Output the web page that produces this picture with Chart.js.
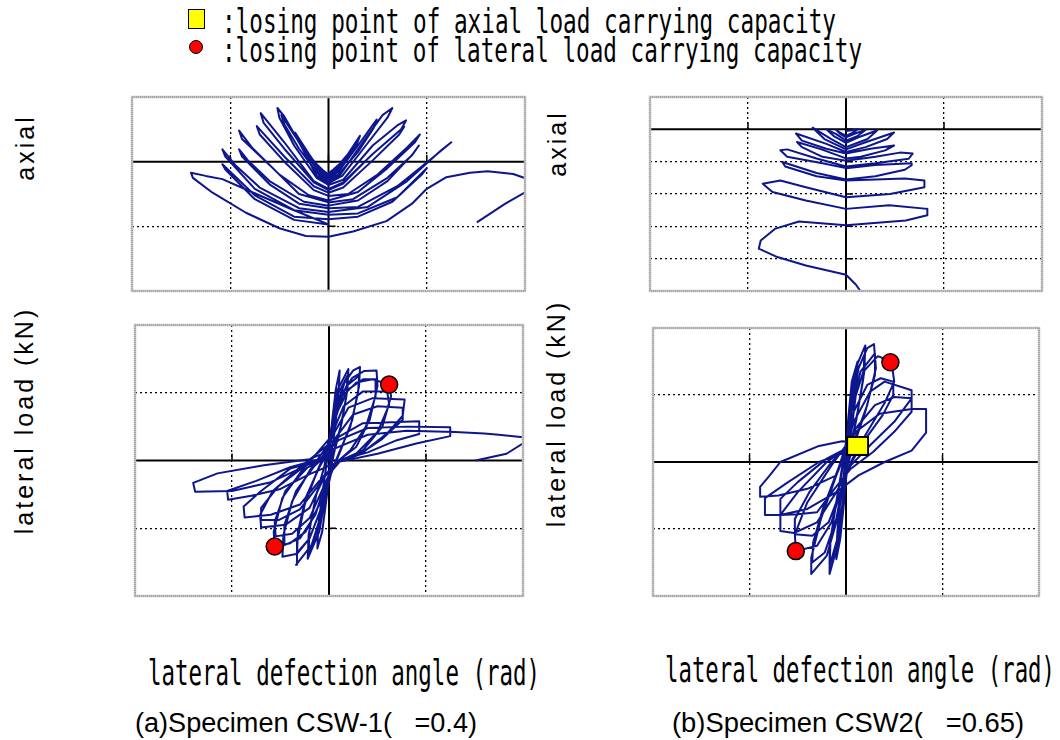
<!DOCTYPE html>
<html><head><meta charset="utf-8">
<script src="https://cdn.jsdelivr.net/npm/chart.js@4.4.0/dist/chart.umd.min.js"></script>
<style>
html,body{margin:0;padding:0;background:#fff;}
body{width:1060px;height:740px;position:relative;overflow:hidden;}
canvas.panel{position:absolute;}
.t{position:absolute;white-space:nowrap;color:#000;line-height:1;}
.mono{font-family:"DejaVu Sans Mono",monospace;}
.sans{font-family:"Liberation Sans",Arial,sans-serif;}
.rot{font-family:"Liberation Sans",Arial,sans-serif;font-size:25px;letter-spacing:3px;}
#sq{position:absolute;left:188px;top:9px;width:15px;height:18px;background:#ffff00;border:1.5px solid #000;}
#ci{position:absolute;left:189px;top:40px;width:12px;height:12px;background:#ff0000;border:1.5px solid #000;border-radius:50%;}
</style></head><body>
<div id="sq"></div><div id="ci"></div>
<div id="lg1" class="t mono" style="font-size:34px">:losing point of axial load carrying capacity</div>
<div id="lg2" class="t mono" style="font-size:34px">:losing point of lateral load carrying capacity</div>
<div id="yl1" class="t rot">axial</div>
<div id="yl2" class="t rot">lateral load (kN)</div>
<div id="yl3" class="t rot">axial</div>
<div id="yl4" class="t rot">lateral load (kN)</div>
<div id="xl1" class="t mono" style="font-size:36px">lateral defection angle (rad)</div>
<div id="xl2" class="t mono" style="font-size:36px">lateral defection angle (rad)</div>
<div id="cap1" class="t sans" style="font-size:27px">(a)Specimen CSW-1(&nbsp;&nbsp; =0.4)</div>
<div id="cap2" class="t sans" style="font-size:27px">(b)Specimen CSW2(&nbsp;&nbsp; =0.65)</div>
<canvas id="c1" class="panel"></canvas>
<canvas id="c2" class="panel"></canvas>
<canvas id="c3" class="panel"></canvas>
<canvas id="c4" class="panel"></canvas>
<script>
// ---- data (x: lateral deflection angle in grid units, y: load / axial in grid units) ----
const csw1Axial = [
 [0,-0.18],
 [0.05,-0.12],[0.11,-0.04],[0.07,-0.12],[0,-0.2],[-0.06,-0.13],[-0.12,-0.04],[-0.08,-0.13],[0,-0.21],
 [0.08,-0.1],[0.15,0.03],[0.20,0.12],[0.16,0.02],[0.08,-0.14],[0,-0.22],[-0.08,-0.12],[-0.16,0.03],[-0.22,0.12],[-0.18,0.02],[-0.09,-0.15],[0,-0.23],
 [0.08,-0.15],[0.2,0.12],[0.32,0.40],[0.29,0.28],[0.18,0.02],[0.07,-0.18],[0,-0.25],[-0.08,-0.15],[-0.2,0.12],[-0.34,0.45],[-0.31,0.32],[-0.2,0.05],[-0.08,-0.18],[0,-0.26],
 [0.1,-0.16],[0.3,0.25],[0.49,0.65],[0.46,0.52],[0.3,0.15],[0.1,-0.2],[0,-0.28],[-0.1,-0.16],[-0.3,0.3],[-0.48,0.72],[-0.45,0.58],[-0.3,0.2],[-0.1,-0.2],[0,-0.3],
 [0.12,-0.2],[0.35,0.3],[0.55,0.72],[0.65,0.83],[0.6,0.68],[0.38,0.25],[0.14,-0.22],[0,-0.33],[-0.12,-0.22],[-0.3,0.3],[-0.45,0.7],[-0.52,0.83],[-0.5,0.68],[-0.35,0.25],[-0.12,-0.25],[0,-0.36],
 [0.15,-0.28],[0.45,0.25],[0.7,0.56],[0.79,0.64],[0.74,0.5],[0.45,0.12],[0.15,-0.32],[0,-0.42],[-0.15,-0.3],[-0.45,0.3],[-0.62,0.62],[-0.69,0.75],[-0.66,0.6],[-0.45,0.2],[-0.15,-0.32],[0,-0.44],
 [0.15,-0.34],[0.45,0.12],[0.77,0.54],[0.72,0.42],[0.45,0.02],[0.15,-0.4],[0,-0.48],[-0.15,-0.38],[-0.45,0.08],[-0.73,0.55],[-0.7,0.42],[-0.45,0.0],[-0.15,-0.44],[0,-0.53],
 [0.2,-0.5],[0.5,-0.2],[0.8,0.22],[0.93,0.42],[0.88,0.3],[0.6,-0.1],[0.3,-0.47],[0,-0.6],[-0.2,-0.52],[-0.5,-0.2],[-0.78,0.22],[-0.91,0.48],[-0.88,0.35],[-0.6,-0.05],[-0.3,-0.5],[0,-0.63],
 [0.25,-0.58],[0.6,-0.25],[0.85,0.1],[0.92,0.25],[0.86,0.12],[0.6,-0.3],[0.3,-0.6],[0,-0.68],[-0.25,-0.62],[-0.6,-0.3],[-0.82,0.02],[-0.91,0.19],[-0.88,0.08],[-0.6,-0.35],[-0.3,-0.65],[0,-0.72],
 [0.3,-0.7],[0.7,-0.38],[1.05,0.05],[1.25,0.30],[1.15,0.18],[0.8,-0.3],[0.4,-0.7],[0,-0.78],[-0.3,-0.72],[-0.7,-0.4],[-0.95,-0.05],[-1.08,0.19],[-1.05,0.08],[-0.75,-0.42],[-0.35,-0.75],[0,-0.82],
 [0.3,-0.8],[0.7,-0.55],[1.0,-0.1],[0.95,-0.2],[0.65,-0.62],[0.3,-0.85],[0,-0.89],[-0.35,-0.85],[-0.75,-0.52],[-1.08,-0.04],[-1.05,-0.12],[-0.75,-0.58],[-0.35,-0.9],[0,-0.97],
 [-0.4,-0.72],[-0.84,-0.43],[-1.08,-0.27],[-1.25,-0.22],[-1.40,-0.17],[-1.38,-0.25],[-1.18,-0.48],[-0.84,-0.79],[-0.5,-1.03],[-0.23,-1.15],[0,-1.16],
 [0.25,-1.08],[0.59,-0.92],[0.85,-0.65],[1.0,-0.42],[1.2,-0.24],[1.44,-0.17],[1.62,-0.15],[1.88,-0.19],[2.03,-0.27],[2.03,-0.45],[1.8,-0.65],[1.51,-0.94]
];
const csw1Lateral = [
 [0,0],[0.03,0.55],[0.07,1.05],[0.11,1.33],[0.10,1.0],[0.06,0.45],[0.02,0.05],[-0.02,-0.5],[-0.07,-1.05],[-0.12,-1.30],[-0.11,-0.95],[-0.06,-0.4],[-0.02,0.0],
 [0.02,0.45],[0.09,1.05],[0.2,1.35],[0.19,1.05],[0.13,0.55],[0.05,0.1],[-0.02,-0.4],[-0.1,-1.05],[-0.22,-1.45],[-0.21,-1.1],[-0.14,-0.55],[-0.05,-0.1],
 [0.03,0.5],[0.1,1.0],[0.19,1.25],[0.18,0.95],[0.12,0.5],[0.04,0.08],[-0.03,-0.45],[-0.11,-1.0],[-0.21,-1.35],[-0.2,-1.0],[-0.13,-0.5],[-0.04,-0.05],
 [0.0,0.15],[0.06,0.7],[0.16,1.15],[0.25,1.33],[0.32,1.38],[0.31,1.1],[0.24,0.6],[0.12,0.15],[0.02,-0.2],[-0.06,-0.7],[-0.18,-1.25],[-0.34,-1.54],[-0.33,-1.2],[-0.25,-0.65],[-0.12,-0.15],
 [0.02,0.3],[0.08,0.75],[0.18,1.1],[0.31,1.25],[0.3,1.0],[0.22,0.5],[0.1,0.1],[0.0,-0.25],[-0.08,-0.7],[-0.2,-1.15],[-0.33,-1.38],[-0.32,-1.05],[-0.24,-0.55],[-0.1,-0.1],
 [-0.02,0.1],[0.04,0.55],[0.12,0.95],[0.24,1.22],[0.36,1.32],[0.49,1.33],[0.5,1.1],[0.42,0.6],[0.28,0.2],[0.1,0.0],[0.0,-0.2],[-0.08,-0.7],[-0.2,-1.15],[-0.34,-1.38],[-0.48,-1.42],[-0.47,-1.1],[-0.38,-0.6],[-0.2,-0.15],
 [0.0,0.25],[0.08,0.7],[0.2,1.05],[0.35,1.2],[0.48,1.2],[0.48,0.95],[0.38,0.5],[0.22,0.15],[0.06,-0.05],[-0.04,-0.35],[-0.14,-0.8],[-0.3,-1.15],[-0.46,-1.25],[-0.46,-0.95],[-0.34,-0.45],[-0.15,-0.08],
 [-0.05,0.05],[0.04,0.5],[0.14,0.95],[0.28,1.15],[0.45,1.2],[0.62,1.12],[0.64,0.95],[0.55,0.5],[0.35,0.15],[0.12,0.0],[0.0,-0.2],[-0.1,-0.65],[-0.24,-1.05],[-0.4,-1.22],[-0.56,-1.27],[-0.57,-1.05],[-0.48,-0.55],[-0.28,-0.15],
 [0.02,0.35],[0.15,0.8],[0.35,1.02],[0.6,1.02],[0.62,0.82],[0.5,0.42],[0.28,0.1],[0.05,-0.05],[-0.06,-0.4],[-0.2,-0.85],[-0.38,-1.08],[-0.55,-1.12],[-0.56,-0.9],[-0.45,-0.45],[-0.22,-0.1],
 [-0.08,0.0],[0.05,0.4],[0.2,0.78],[0.45,0.92],[0.78,0.90],[0.76,0.66],[0.6,0.4],[0.35,0.12],[0.1,0.0],[-0.05,-0.25],[-0.2,-0.7],[-0.45,-0.95],[-0.70,-0.99],[-0.71,-0.8],[-0.58,-0.45],[-0.3,-0.1],
 [0.05,0.3],[0.25,0.68],[0.5,0.8],[0.76,0.78],[0.76,0.6],[0.55,0.32],[0.3,0.08],[0.05,-0.05],[-0.1,-0.35],[-0.3,-0.72],[-0.52,-0.88],[-0.70,-0.88],[-0.7,-0.7],[-0.52,-0.38],[-0.25,-0.08],
 [-0.1,0.0],[0.1,0.35],[0.35,0.55],[0.93,0.58],[0.93,0.39],[0.7,0.3],[0.4,0.12],[0.1,0.0],[-0.1,-0.3],[-0.3,-0.65],[-0.6,-0.8],[-0.87,-0.84],[-0.88,-0.68],[-0.7,-0.45],[-0.4,-0.12],
 [-0.1,0.0],[0.1,0.3],[0.4,0.48],[0.8,0.5],[1.25,0.49],[1.25,0.36],[0.9,0.25],[0.5,0.1],[0.1,-0.02],[-0.2,-0.2],[-0.5,-0.42],[-0.8,-0.52],[-1.04,-0.58],[-1.05,-0.45],[-0.75,-0.3],[-0.4,-0.1],
 [-0.1,0.02],[-0.3,-0.12],[-0.6,-0.32],[-1.0,-0.45],[-1.38,-0.46],[-1.40,-0.33],[-1.15,-0.19],[-0.67,-0.07],[-0.2,0.02],
 [0.1,0.2],[0.4,0.38],[0.8,0.44],[1.3,0.42],[1.6,0.40],[1.75,0.38],[2.03,0.34],[2.03,0.28],[1.83,0.1],[1.51,0.0]
];
const csw1LateralLoss = [[0.62,1.12],[-0.56,-1.27]];

const csw2Axial = [
 [0,-0.05],
 [0.06,-0.03],[0.12,0.0],[0.07,-0.1],[0,-0.2],[-0.06,-0.1],[-0.1,-0.02],[-0.06,-0.14],[0,-0.25],
 [0.1,-0.12],[0.2,-0.02],[0.12,-0.2],[0,-0.35],[-0.1,-0.15],[-0.2,0.0],[-0.12,-0.22],[0,-0.42],
 [0.15,-0.22],[0.32,-0.03],[0.22,-0.3],[0,-0.55],[-0.15,-0.3],[-0.34,0.05],[-0.22,-0.3],[0,-0.62],
 [0.2,-0.4],[0.49,-0.10],[0.42,-0.3],[0.2,-0.55],[0,-0.70],[-0.2,-0.45],[-0.51,-0.13],[-0.45,-0.35],[-0.2,-0.6],[0,-0.75],
 [0.25,-0.6],[0.49,-0.5],[0.4,-0.65],[0.15,-0.85],[0,-0.9],[-0.25,-0.62],[-0.50,-0.39],[-0.45,-0.55],[-0.24,-0.85],[0,-0.97],
 [0.3,-0.85],[0.55,-0.72],[0.68,-0.75],[0.64,-0.91],[0.3,-1.05],[0,-1.15],[-0.3,-0.9],[-0.6,-0.62],[-0.67,-0.65],[-0.6,-0.85],[-0.24,-1.05],[0,-1.2],
 [0.3,-1.1],[0.67,-1.05],[0.67,-1.11],[0.6,-1.25],[0.3,-1.45],[0,-1.55],[-0.3,-1.35],[-0.65,-1.01],[-0.62,-1.15],[-0.3,-1.45],[0,-1.58],
 [0.3,-1.55],[0.6,-1.52],[0.80,-1.58],[0.80,-1.79],[0.45,-2.0],[0,-2.1],[-0.4,-1.8],[-0.67,-1.58],[-0.85,-1.68],[-0.75,-1.94],[-0.41,-2.2],[0,-2.46],
 [0.44,-2.35],[0.83,-2.46],[0.83,-2.66],[0.61,-2.82],[0,-2.97],[-0.48,-2.85],[-0.72,-3.07],[-0.87,-3.44],[-0.89,-3.69],[-0.7,-3.95],[-0.41,-4.21],[0,-4.5],[0.1,-4.8],[0.17,-5.1]
];
const csw2Lateral = [
 [0,0],[0.02,0.6],[0.06,1.2],[0.12,1.5],[0.11,1.1],[0.06,0.5],[0.01,0.0],[-0.02,-0.6],[-0.06,-1.15],[-0.1,-1.45],[-0.09,-1.05],[-0.05,-0.45],[0,0.05],
 [0.03,0.7],[0.1,1.4],[0.2,1.74],[0.19,1.35],[0.12,0.75],[0.03,0.1],[-0.02,-0.5],[-0.08,-1.2],[-0.17,-1.67],[-0.17,-1.25],[-0.1,-0.6],[-0.02,0.1],
 [0.03,0.6],[0.1,1.3],[0.19,1.6],[0.18,1.25],[0.11,0.65],[0.02,0.05],[-0.03,-0.55],[-0.09,-1.15],[-0.17,-1.55],[-0.16,-1.15],[-0.09,-0.5],[-0.01,0.1],
 [0.04,0.6],[0.13,1.4],[0.22,1.7],[0.29,1.76],[0.31,1.4],[0.22,0.85],[0.08,0.3],[0.0,-0.1],[-0.08,-0.8],[-0.2,-1.4],[-0.36,-1.67],[-0.36,-1.43],[-0.26,-0.85],[-0.1,-0.2],[0,0.2],
 [0.05,0.7],[0.15,1.35],[0.3,1.62],[0.3,1.3],[0.2,0.75],[0.07,0.2],[-0.02,-0.2],[-0.1,-0.85],[-0.22,-1.35],[-0.35,-1.5],[-0.34,-1.2],[-0.24,-0.7],[-0.08,-0.1],[0,0.25],
 [0.06,0.8],[0.18,1.35],[0.33,1.58],[0.47,1.5],[0.50,1.2],[0.40,0.88],[0.2,0.4],[0.05,0.0],[-0.05,-0.4],[-0.15,-0.9],[-0.3,-1.25],[-0.52,-1.33],[-0.53,-1.08],[-0.4,-0.6],[-0.15,-0.05],[0,0.25],
 [0.08,0.75],[0.22,1.15],[0.36,1.25],[0.49,1.2],[0.49,1.0],[0.38,0.7],[0.18,0.3],[0.04,-0.05],[-0.06,-0.45],[-0.18,-0.9],[-0.35,-1.1],[-0.53,-1.08],[-0.53,-0.85],[-0.38,-0.45],[-0.15,0.0],[0,0.2],
 [0.08,0.6],[0.25,1.05],[0.40,1.2],[0.68,1.07],[0.68,0.95],[0.5,0.6],[0.25,0.25],[0.05,-0.05],[-0.1,-0.45],[-0.3,-0.9],[-0.54,-1.06],[-0.68,-1.03],[-0.68,-0.79],[-0.5,-0.45],[-0.2,0.0],[0,0.2],
 [0.1,0.5],[0.3,0.85],[0.5,0.97],[0.68,0.95],[0.68,0.75],[0.5,0.45],[0.28,0.15],[0.05,-0.1],[-0.12,-0.4],[-0.3,-0.75],[-0.5,-0.78],[-0.68,-0.79],[-0.68,-0.55],[-0.5,-0.3],[-0.2,0.05],[0,0.2],
 [0.1,0.45],[0.35,0.72],[0.68,0.79],[0.83,0.79],[0.83,0.44],[0.68,0.17],[0.4,0.0],[0.13,-0.2],[-0.1,-0.45],[-0.4,-0.7],[-0.68,-0.79],[-0.84,-0.79],[-0.84,-0.54],[-0.6,-0.3],[-0.28,0.0],[0,0.15],
 [-0.1,-0.2],[-0.4,-0.4],[-0.7,-0.5],[-0.89,-0.52],[-0.89,-0.37],[-0.79,-0.2],[-0.68,0.0],[-0.28,0.24],[-0.04,0.31],[0.06,0.3]
];
const csw2LateralLoss = [[0.46,1.49],[-0.52,-1.33]];
const csw2AxialLoss = [[0.12,0.24]];

// axis ranges (grid every unit, no tick labels shown)
const angleRange = [-2, 2];
const csw1AxialRange = [-2, 1];
const csw2AxialRange = [-5, 1];
const lateralRange = [-2, 2];

const LINE = '#0d168c';
const toXY = arr => arr.map(p => ({x: p[0], y: p[1]}));

const axesPlugin = {
  id: 'zeroAxes',
  beforeDatasetsDraw(chart) {
    const {ctx, chartArea: a, scales: {x, y}} = chart;
    const x0 = x.getPixelForValue(0), y0 = y.getPixelForValue(0);
    ctx.save();
    ctx.strokeStyle = '#000';
    ctx.lineWidth = 2;
    ctx.beginPath();
    ctx.moveTo(a.left, y0); ctx.lineTo(a.right, y0);
    ctx.moveTo(x0, a.top); ctx.lineTo(x0, a.bottom);
    ctx.stroke();
    ctx.lineWidth = 1.5;
    ctx.beginPath();
    x.ticks.forEach(t => { const px = x.getPixelForValue(t.value); ctx.moveTo(px, y0); ctx.lineTo(px, y0 - 7); });
    y.ticks.forEach(t => { const py = y.getPixelForValue(t.value); ctx.moveTo(x0, py); ctx.lineTo(x0 + 7, py); });
    ctx.stroke();
    ctx.restore();
  },
  afterDraw(chart) {
    const {ctx, chartArea: a} = chart;
    ctx.save();
    ctx.strokeStyle = '#c4c4c4';
    ctx.lineWidth = 2.5;
    ctx.strokeRect(a.left, a.top, a.right - a.left, a.bottom - a.top);
    ctx.strokeStyle = '#8a8a8a';
    ctx.lineWidth = 1;
    ctx.setLineDash([1, 1]);
    ctx.strokeRect(a.left, a.top, a.right - a.left, a.bottom - a.top);
    ctx.restore();
  }
};

function squareStyle() {
  const c = document.createElement('canvas');
  c.width = 23; c.height = 20;
  const g = c.getContext('2d');
  g.fillStyle = '#ffff00'; g.fillRect(1, 1, 21, 18);
  g.strokeStyle = '#000'; g.lineWidth = 2; g.strokeRect(1, 1, 21, 18);
  return c;
}

function makePanel(id, box, yRange, curve, circles, squares) {
  const pad = 8;
  const cv = document.getElementById(id);
  const w = box.r - box.l, h = box.b - box.t;
  cv.width = w + 2 * pad; cv.height = h + 2 * pad;
  cv.style.left = (box.l - pad) + 'px';
  cv.style.top = (box.t - pad) + 'px';
  const datasets = [];
  if (squares) datasets.push({data: toXY(squares), pointStyle: squareStyle(), pointRadius: 10, showLine: false});
  if (circles) datasets.push({data: toXY(circles), pointStyle: 'circle', pointRadius: 8.5, backgroundColor: '#ff0000', borderColor: '#000', borderWidth: 1.5, showLine: false});
  datasets.push({data: toXY(curve), showLine: true, borderColor: LINE, borderWidth: 2, pointRadius: 0, fill: false, tension: 0, borderJoinStyle: 'round'});
  const gridOpts = {
    color: c => (c.tick && c.tick.value === 0) ? 'rgba(0,0,0,0)' : '#000',
    lineWidth: 1.3, drawTicks: false
  };
  return new Chart(cv, {
    type: 'scatter',
    data: {datasets},
    options: {
      responsive: false, animation: false, devicePixelRatio: 1, events: [],
      layout: {padding: pad},
      plugins: {legend: {display: false}, tooltip: {enabled: false}},
      scales: {
        x: {type: 'linear', min: angleRange[0], max: angleRange[1], ticks: {display: false, stepSize: 1}, grid: gridOpts, border: {display: false, dash: [2, 3]}},
        y: {type: 'linear', min: yRange[0], max: yRange[1], ticks: {display: false, stepSize: 1}, grid: gridOpts, border: {display: false, dash: [2, 3]}}
      }
    },
    plugins: [axesPlugin]
  });
}

makePanel('c1', {l: 132, r: 525, t: 97, b: 291}, csw1AxialRange, csw1Axial, null, null);
makePanel('c2', {l: 133, r: 525, t: 323, b: 598}, lateralRange, csw1Lateral, csw1LateralLoss, null);
makePanel('c3', {l: 650, r: 1042, t: 97, b: 291}, csw2AxialRange, csw2Axial, null, null);
makePanel('c4', {l: 650, r: 1042, t: 325, b: 599}, lateralRange, csw2Lateral, csw2LateralLoss, csw2AxialLoss);

// ---- text placement ----
function fit(id, left, width, cy) {
  const el = document.getElementById(id);
  const r = el.getBoundingClientRect();
  el.style.left = left + 'px';
  el.style.top = (cy - r.height / 2) + 'px';
  el.style.transformOrigin = '0 50%';
  el.style.transform = 'scaleX(' + (width / r.width) + ')';
}
function rot(id, cx, cy) {
  const el = document.getElementById(id);
  const r = el.getBoundingClientRect();
  el.style.left = (cx - r.width / 2) + 'px';
  el.style.top = (cy - r.height / 2) + 'px';
  el.style.transformOrigin = '50% 50%';
  el.style.transform = 'rotate(-90deg)';
}
fit('lg1', 222, 614, 21);
fit('lg2', 222, 640, 50);
fit('xl1', 148, 392, 673);
fit('xl2', 665, 390, 670);
fit('cap1', 135, 342, 723);
fit('cap2', 672, 352, 723);
rot('yl1', 25, 147);
rot('yl2', 25, 420);
rot('yl3', 557, 143);
rot('yl4', 557, 413);
</script>
</body></html>
